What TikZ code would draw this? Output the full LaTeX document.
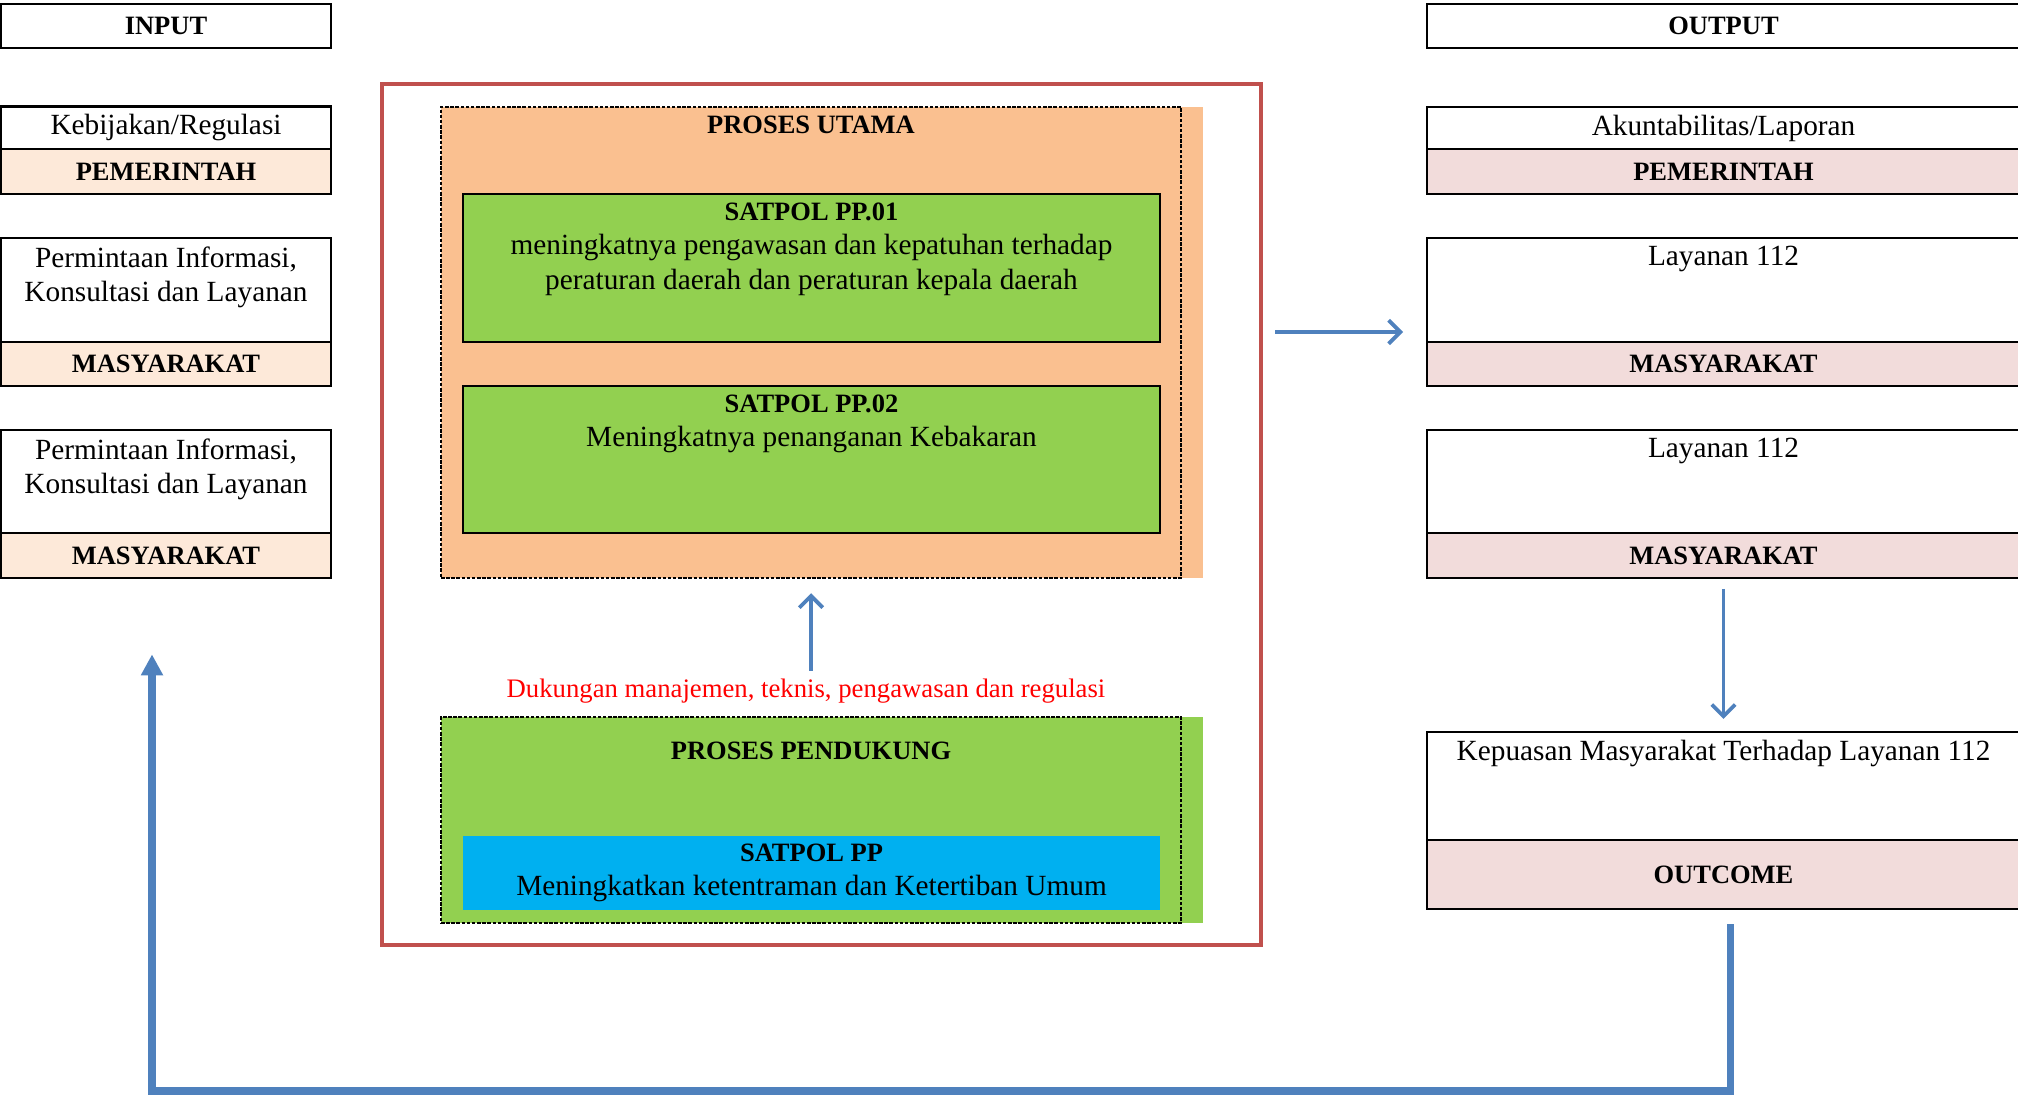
\documentclass[tikz,border=0pt]{standalone}
\usepackage{fontspec}
\setmainfont{Liberation Serif}
\usepackage{tikz}
\usetikzlibrary{
	arrows.meta,
	positioning,
	shadows
}
\definecolor{bandin}{HTML}{FDE9D9}
\definecolor{bandout}{HTML}{F2DCDB}
\definecolor{procorange}{HTML}{FAC090}
\definecolor{procgreen}{HTML}{92D050}
\definecolor{suppblue}{HTML}{00B0F0}
\definecolor{framered}{HTML}{C0504D}
\definecolor{arrowblue}{HTML}{4F81BD}
\newcommand{\plainfont}{\fontsize{12.5}{14.8}\selectfont}
\newcommand{\boldfont}{\fontsize{11.3}{14.8}\selectfont\bfseries}
\tikzset{
	cell/.style={draw,line width=1.2pt,rectangle,minimum width=4.95cm,align=center},
	widecell/.style={cell,minimum width=8.895cm},
	headcell/.style={minimum height=0.66cm,font=\boldfont},
	inband/.style={fill=bandin,font=\boldfont},
	outband/.style={fill=bandout,font=\boldfont},
	toptext/.style={label={[anchor=north,align=center,inner sep=4pt]north:{#1}}},
	procbox/.style={draw,densely dashed,dash pattern=on 1.5pt off 0.7pt,line width=1pt,minimum width=11.1cm},
	satbox/.style={draw,line width=1.2pt,fill=procgreen,minimum width=10.455cm},
	flow/.style={draw=arrowblue,line width=1.6pt,-{Straight Barb[length=5pt,width=10pt]}},
	loopback/.style={draw=arrowblue,line width=3pt,-{Triangle[length=9pt,width=9pt]}}
}
\newcommand{\tikzCell}[4][]{\node (#3) at #2 [cell,#1]{#4};}
\newcommand{\tikzWide}[4][]{\node (#3) at #2 [widecell,#1]{#4};}

\begin{document}
\begin{tikzpicture}[x=0.015cm,y=-0.015cm,font=\plainfont]
	\useasboundingbox (0,0) rectangle (2018,1103);

	% input
	\tikzCell[headcell]{(166,26)}{input}{INPUT}
	\tikzCell[minimum height=0.63cm]{(166,128)}{in1}{Kebijakan/Regulasi}
	\tikzCell[inband,minimum height=0.675cm]{(166,171.5)}{in1b}{PEMERINTAH}
	\tikzCell[minimum height=1.56cm,toptext={Permintaan Informasi,\\Konsultasi dan Layanan}]{(166,290)}{in2}{}
	\tikzCell[inband,minimum height=0.66cm]{(166,364)}{in2b}{MASYARAKAT}
	\tikzCell[minimum height=1.545cm,toptext={Permintaan Informasi,\\Konsultasi dan Layanan}]{(166,481.5)}{in3}{}
	\tikzCell[inband,minimum height=0.675cm]{(166,555.5)}{in3b}{MASYARAKAT}

	% output
	\tikzWide[headcell]{(1723.5,26)}{output}{OUTPUT}
	\tikzWide[minimum height=0.63cm]{(1723.5,128)}{out1}{Akuntabilitas/Laporan}
	\tikzWide[outband,minimum height=0.675cm]{(1723.5,171.5)}{out1b}{PEMERINTAH}
	\tikzWide[minimum height=1.56cm,toptext={Layanan 112}]{(1723.5,290)}{lay1}{}
	\tikzWide[outband,minimum height=0.66cm]{(1723.5,364)}{lay1b}{MASYARAKAT}
	\tikzWide[minimum height=1.545cm,toptext={Layanan 112}]{(1723.5,481.5)}{lay2}{}
	\tikzWide[outband,minimum height=0.675cm]{(1723.5,555.5)}{lay2b}{MASYARAKAT}
	\tikzWide[minimum height=1.62cm,toptext={Kepuasan Masyarakat Terhadap Layanan 112}]{(1723.5,786)}{kep}{}
	\tikzWide[outband,minimum height=1.035cm]{(1723.5,874.5)}{kepb}{OUTCOME}

	% proses
	\draw[framered,line width=1.3pt] (382,84) rectangle (1261,945);
	\node (utama) at (811,342.5) [procbox,fill=procorange,minimum height=7.065cm,
		general shadow={fill=procorange,shadow xshift=0.33cm},
		toptext={\boldfont PROSES UTAMA}]{};
	\node (pp1) at (811.5,268) [satbox,minimum height=2.22cm,
		toptext={{\boldfont SATPOL PP.01}\\meningkatnya pengawasan dan kepatuhan terhadap\\peraturan daerah dan peraturan kepala daerah}]{};
	\node (pp2) at (811.5,459.5) [satbox,minimum height=2.205cm,
		toptext={{\boldfont SATPOL PP.02}\\Meningkatnya penanganan Kebakaran}]{};
	\node (dukungan) at (806,691) [text=red,font=\fontsize{11.4}{14}\selectfont]{Dukungan manajemen, teknis, pengawasan dan regulasi};
	\node (pendukung) at (811,820) [procbox,fill=procgreen,minimum height=3.09cm,
		general shadow={fill=procgreen,shadow xshift=0.33cm},
		label={[anchor=north,yshift=-7.5pt]north:{\boldfont PROSES PENDUKUNG}}]{};
	\node (pp) at (811.5,873) [fill=suppblue,minimum width=10.455cm,minimum height=1.02cm,align=center]
		{{\boldfont SATPOL PP}\\Meningkatkan ketentraman dan Ketertiban Umum};

	% arrows
	\coordinate (toout) at (1275,332);
	\coordinate (atout) at (1403,332);
	\coordinate (fbR) at (1730,1091);
	\coordinate (fbL) at (152,1091);
	\draw[flow] (toout) -- (atout);
	\draw[flow,shorten >=6pt] (dukungan.north -| utama.south) -- (utama.south);
	\draw[flow,shorten <=4pt,shorten >=5pt] (lay2b.south) -- (kep.north);
	\draw[loopback,shorten <=6pt,shorten >=32pt] (kepb.south -| fbR) -- (fbR) -- (fbL) -- (in3b.south -| fbL);
\end{tikzpicture}
\end{document}
